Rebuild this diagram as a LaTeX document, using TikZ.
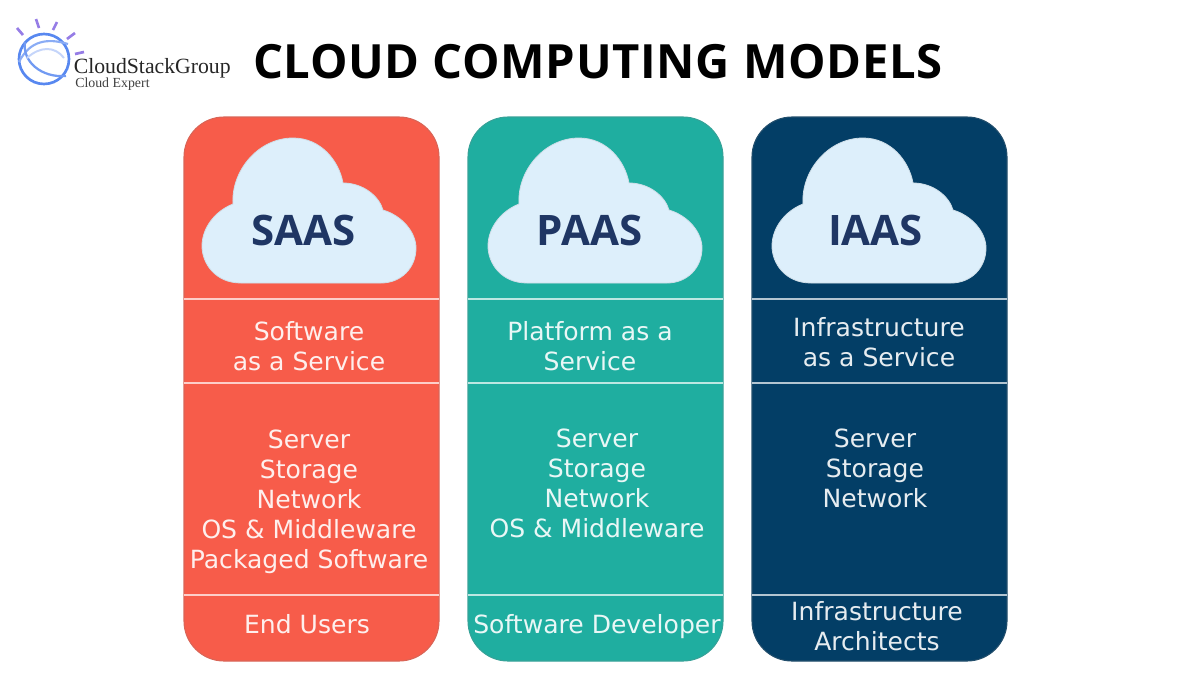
\documentclass[tikz,border=0pt]{standalone}
\usepackage{fontspec}
\setmainfont{DejaVu Sans}
\newfontfamily\titlefont[LetterSpace=1.4]{Open Sans}
\newfontfamily\labelfont{Open Sans}
\newfontfamily\logofont{Liberation Serif}
\usepackage{xcolor}
\definecolor{saasred}{RGB}{247, 92, 74}
\definecolor{paasteal}{RGB}{31, 174, 160}
\definecolor{iaasnavy}{RGB}{3, 62, 102}
\definecolor{cloudblue}{RGB}{221, 239, 251}
\definecolor{clouddark}{RGB}{31, 54, 100}
\definecolor{logoblue}{RGB}{88, 136, 240}
\definecolor{logopurple}{RGB}{150, 125, 230}
\tikzset{
  panel/.style={rectangle, rounded corners=30pt, draw=#1!75!gray, line width=0.8pt, fill=#1, minimum width=191.25pt, minimum height=408pt, inner sep=0pt},
  divider/.style={draw=white!70!#1, line width=1pt},
  paneltext/.style={align=center, inner sep=0pt, text=white!90!#1, font=\fontsize{18.8}{22.5}\selectfont},
  cloudlabel/.style={inner sep=0pt, text=clouddark, font=\fontsize{31.5}{33}\selectfont\bfseries\labelfont},
  cloudpic/.pic={
    \fill[cloudblue, draw=cloudblue!85!gray, line width=0.6pt] (-52,72) .. controls (-78,72) and (-91,52) .. (-91,35)
      .. controls (-91,17) and (-78,0) .. (-60,-7)
      .. controls (-62,-40) and (-35,-73) .. (0,-73)
      .. controls (28,-73) and (46,-50) .. (50,-28)
      .. controls (70,-28) and (86,-15) .. (90,-1)
      .. controls (110,5) and (123,22) .. (123,37)
      .. controls (123,57) and (108,72) .. (88,72) -- cycle;
  }
}
\begin{document}
\begin{tikzpicture}[x=0.75pt, y=-0.75pt]
  \useasboundingbox (0,0) rectangle (1200,675);

  % Logo
  \draw[logoblue, line width=2pt] (44,59) circle (25);
  \draw[logoblue!70!white, line width=1.6pt] (19,62) .. controls (30,40) and (48,38) .. (68,44);
  \draw[logoblue!85!white, line width=1.7pt] (25,42) .. controls (22,62) and (42,78) .. (66,76);
  \draw[logoblue!35!white, line width=1.5pt] (27,58) .. controls (40,46) and (55,46) .. (64,58);
  \foreach \xa/\ya/\xb/\yb in {17/28/23/35, 36/19/39/28, 57/22/53/30, 75/33/67/39, 84/52/75/54}
    \draw[logopurple, line width=2pt] (\xa,\ya) -- (\xb,\yb);
  \node[anchor=base west, inner sep=0pt, text=black!85, font=\fontsize{16.3}{18}\selectfont\logofont] (logoname) at (73.5,73) {CloudStackGroup};
  \node[anchor=base west, inner sep=0pt, text=black!75, font=\fontsize{10.4}{12}\selectfont\logofont] (logotag) at (75,87) {Cloud Expert};

  % Title
  \node[anchor=base west, inner sep=0pt, text=black, font=\fontsize{35.4}{40}\selectfont\bfseries\titlefont] (title) at (253,78) {CLOUD COMPUTING MODELS};

  % SAAS column
  \node[panel=saasred] (saas) at (311.5,389) {};
  \pic at (293,211) {cloudpic};
  \node[cloudlabel] (saasname) at (303.5,230) {SAAS};
  \draw[divider=saasred] (184,299) -- (439,299);
  \draw[divider=saasred] (184,383) -- (439,383);
  \draw[divider=saasred] (184,595) -- (439,595);
  \node[paneltext=saasred] (saaswhat) at (309,346) {Software\\as a Service};
  \node[paneltext=saasred] (saasstack) at (309,502) {Server\\Storage\\Network\\OS \& Middleware\\Packaged Software};
  \node[paneltext=saasred] (saasuser) at (307,624) {End Users};

  % PAAS column
  \node[panel=paasteal] (paas) at (595.5,389) {};
  \pic at (579,211) {cloudpic};
  \node[cloudlabel] (paasname) at (589.5,230) {PAAS};
  \draw[divider=paasteal] (468,299) -- (723,299);
  \draw[divider=paasteal] (468,383) -- (723,383);
  \draw[divider=paasteal] (468,595) -- (723,595);
  \node[paneltext=paasteal] (paaswhat) at (590,346) {Platform as a\\Service};
  \node[paneltext=paasteal] (paasstack) at (597,483) {Server\\Storage\\Network\\OS \& Middleware};
  \node[paneltext=paasteal] (paasuser) at (597,627) {Software Developer};

  % IAAS column
  \node[panel=iaasnavy] (iaas) at (879.5,389) {};
  \pic at (863,211) {cloudpic};
  \node[cloudlabel] (iaasname) at (875.5,230) {IAAS};
  \draw[divider=iaasnavy] (752,299) -- (1007,299);
  \draw[divider=iaasnavy] (752,383) -- (1007,383);
  \draw[divider=iaasnavy] (752,595) -- (1007,595);
  \node[paneltext=iaasnavy] (iaaswhat) at (879,342) {Infrastructure\\as a Service};
  \node[paneltext=iaasnavy] (iaasstack) at (875,468) {Server\\Storage\\Network};
  \node[paneltext=iaasnavy] (iaasuser) at (877,626) {Infrastructure\\Architects};
\end{tikzpicture}
\end{document}
